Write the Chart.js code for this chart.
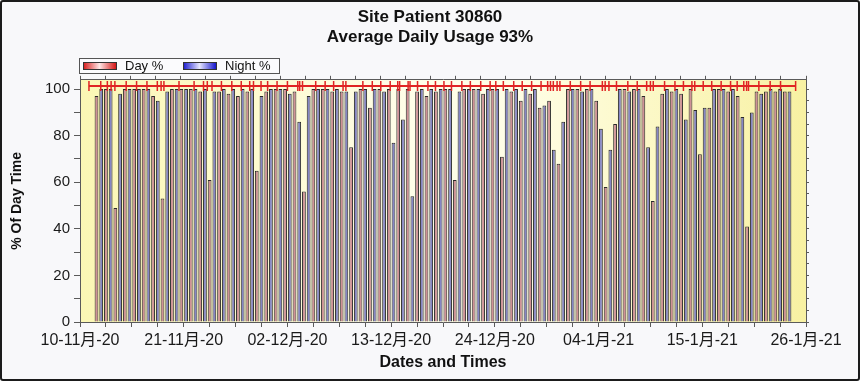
<!DOCTYPE html>
<html>
<head>
<meta charset="utf-8">
<script src="https://cdn.jsdelivr.net/npm/chart.js@4.4.1/dist/chart.umd.min.js"></script>
<style>
  html, body { margin: 0; padding: 0; background: #fff; }
  .frame { width: 860px; height: 381px; box-sizing: border-box; border: 2px solid #1b1b1b; border-radius: 3px; background: #f8f8fa; }
  .chart-box { position: relative; width: 856px; height: 377px; }
</style>
</head>
<body>
<div class="frame"><div class="chart-box"><canvas id="usageChart"></canvas></div></div>
<script>
// Chart data (x = days counted from 10-11-20)
const chartTitle = ['Site Patient 30860', 'Average Daily Usage 93%'];
const xTickLabels = ['10-11月-20', '21-11月-20', '02-12月-20', '13-12月-20', '24-12月-20', '04-1月-21', '15-1月-21', '26-1月-21'];
const tickDays = 11;
const firstDataDay = 2;

const dayPct = [
  97, 100, 49, 100, 100, 100, 97, 53, 100, 100, 100, 99, 61, 99, 98, 97, 99, 65,
  99, 100, 100, 99, 56, 100, 100, 99, 99, 75, 100, 92, 100, 100, 100, 100, 99, 97, 99,
  100, 61, 100, 100, 98, 100, 71, 99, 95, 98, 92, 95, 68, 100, 100, 100, 95, 58, 85,
  100, 100, 97, 52, 98, 99, 98, 100, 72, 92, 100, 99, 97, 41, 99, 99, 99, 99
];
const nightPct = [
  100, 100, 98, 100, 100, 100, 95, 99, 100, 100, 100, 100, 99, 100, 100, 100, 100, 97,
  100, 100, 98, 86, 97, 100, 100, 100, 99, 99, 100, 100, 99, 77, 87, 54, 100, 100, 100,
  100, 99, 100, 100, 100, 100, 100, 100, 100, 100, 93, 74, 86, 100, 99, 100, 83, 74, 100,
  99, 100, 75, 84, 100, 100, 87, 91, 92, 100, 100, 100, 88, 90, 98, 100, 100, 99
];

// red event line across the top
const markerLevel = 101.3;
const lineStartDay = 0.95;
const lineEndDay = 75.9;
const markerDays = [
  2.2, 2.9, 3.3, 3.7, 4.9, 6.0, 7.1, 8.2, 8.6, 8.9, 10.5, 12.1, 13.1, 13.5, 14.0, 15.0,
  16.1, 17.1, 18.0, 18.4, 19.2, 19.9, 20.9, 22.0, 23.1, 23.3, 23.6, 25.0, 26.0, 26.9,
  27.9, 28.2, 30.0, 31.0, 31.9, 32.9, 33.7, 33.9, 34.8, 35.0, 35.8, 36.9, 37.7, 38.6,
  39.4, 40.5, 41.4, 42.5, 43.5, 44.1, 44.9, 46.0, 46.9, 47.9, 48.9, 49.6, 49.9, 50.2,
  50.6, 50.9, 52.0, 53.1, 54.1, 55.4, 55.7, 56.1, 56.9, 58.1, 59.1, 60.1, 60.5, 60.8,
  62.0, 63.1, 64.0, 64.9, 65.2, 66.1, 67.0, 68.0, 69.0, 69.7, 70.4, 70.7, 70.9, 72.0,
  73.2, 74.3
];

const lastDay = tickDays * (xTickLabels.length - 1);
const dayPoints = dayPct.map((v, i) => ({ x: firstDataDay + i, y: v }));
const nightPoints = nightPct.map((v, i) => ({ x: firstDataDay + i, y: v }));
const markerPoints = [lineStartDay, ...markerDays, lineEndDay].map(d => ({ x: d, y: markerLevel }));

const FONT = "Arial, 'Liberation Sans', 'Noto Sans CJK SC', sans-serif";
const axisColor = '#5a5a5a';

// yellow plot background
const plotBackground = {
  id: 'plotBackground',
  beforeDraw(chart) {
    const { ctx, chartArea: { left, top, right, bottom } } = chart;
    const g = ctx.createLinearGradient(left, 0, right, 0);
    g.addColorStop(0, '#fbf7b4');
    g.addColorStop(0.45, '#fffee8');
    g.addColorStop(0.6, '#fffee6');
    g.addColorStop(1, '#f8f1a2');
    ctx.save();
    ctx.fillStyle = g;
    ctx.fillRect(left, top, right - left, bottom - top);
    ctx.restore();
  }
};

// boxed legend with gradient swatches, drawn above the plot
const boxLegend = {
  id: 'boxLegend',
  afterDraw(chart) {
    const { ctx, chartArea } = chart;
    const x0 = chartArea.left - 1;
    const y0 = 56;
    const items = chart.data.datasets.filter(ds => ds.swatch);
    ctx.save();
    ctx.fillStyle = '#fbfbfd';
    ctx.fillRect(x0, y0, 200, 15);
    ctx.strokeStyle = '#555';
    ctx.lineWidth = 1;
    ctx.strokeRect(x0 + 0.5, y0 + 0.5, 200, 15);
    ctx.font = '13px ' + FONT;
    ctx.textBaseline = 'middle';
    items.forEach((ds, i) => {
      const sx = x0 + 4 + i * 100;
      const g = ctx.createLinearGradient(sx, 0, sx + 33, 0);
      g.addColorStop(0, ds.swatch[0]);
      g.addColorStop(0.5, ds.swatch[1]);
      g.addColorStop(1, ds.swatch[0]);
      ctx.fillStyle = g;
      ctx.fillRect(sx, y0 + 4, 33, 7);
      ctx.strokeStyle = '#333';
      ctx.strokeRect(sx + 0.5, y0 + 4.5, 33, 7);
      ctx.fillStyle = '#111';
      ctx.fillText(ds.label, sx + 42, y0 + 8);
    });
    ctx.restore();
  }
};

const ctx = document.getElementById('usageChart').getContext('2d');
new Chart(ctx, {
  type: 'bar',
  data: {
    datasets: [
      {
        label: 'Day %',
        data: dayPoints,
        backgroundColor: '#cf9197',
        borderColor: '#2a2a2a',
        borderWidth: 1,
        barPercentage: 0.8,
        categoryPercentage: 1,
        swatch: ['#d41616', '#ffe6e6'],
        order: 2
      },
      {
        label: 'Night %',
        data: nightPoints,
        backgroundColor: '#8686c4',
        borderColor: '#2a2a2a',
        borderWidth: 1,
        barPercentage: 0.8,
        categoryPercentage: 1,
        swatch: ['#1616cc', '#e6e6ff'],
        order: 2
      },
      {
        type: 'line',
        label: 'events',
        data: markerPoints,
        borderColor: '#e02424',
        borderWidth: 2,
        pointStyle: 'line',
        pointRotation: 90,
        pointRadius: 5,
        pointBorderWidth: 1.5,
        pointBorderColor: '#e02424',
        order: 0
      }
    ]
  },
  options: {
    responsive: true,
    maintainAspectRatio: false,
    animation: false,
    layout: { padding: 0 },
    scales: {
      x: {
        type: 'linear',
        position: 'bottom',
        min: 0,
        max: lastDay,
        offset: false,
        afterFit(scale) { scale.height = 57; },
        grid: { offset: false, drawOnChartArea: false, color: axisColor, tickLength: 5 },
        border: { color: axisColor },
        ticks: {
          stepSize: tickDays / 4,
          autoSkip: false,
          maxRotation: 0,
          includeBounds: false,
          padding: 4,
          color: '#1a1a1a',
          font: { family: FONT, size: 16 },
          callback(value) {
            const i = value / tickDays;
            return Math.abs(i - Math.round(i)) < 1e-6 ? xTickLabels[Math.round(i)] : '';
          }
        },
        title: {
          display: true,
          text: 'Dates and Times',
          color: '#111',
          font: { family: FONT, size: 16, weight: 'bold' },
          padding: { top: 0, bottom: 7 }
        }
      },
      x2: {
        type: 'linear',
        position: 'top',
        min: 0,
        max: lastDay,
        afterFit(scale) { scale.height = 5; },
        grid: { drawOnChartArea: false, color: axisColor, tickLength: 4 },
        border: { color: axisColor },
        ticks: { stepSize: tickDays / 4, display: false }
      },
      y: {
        min: 0,
        max: 104,
        afterFit(scale) { scale.width = 78; },
        grid: { drawOnChartArea: false, color: axisColor, tickLength: 6 },
        border: { color: axisColor },
        ticks: {
          stepSize: 5,
          includeBounds: false,
          padding: 4,
          color: '#1a1a1a',
          font: { family: FONT, size: 15 },
          callback(value) { return value % 20 === 0 ? value : ''; }
        },
        title: {
          display: true,
          text: '% Of Day Time',
          color: '#111',
          font: { family: FONT, size: 14, weight: 'bold' },
          padding: { top: 7, bottom: 0 }
        }
      },
      y2: {
        position: 'right',
        min: 0,
        max: 104,
        afterFit(scale) { scale.width = 52; },
        grid: { drawOnChartArea: false, color: axisColor, tickLength: 3 },
        border: { color: axisColor },
        ticks: { stepSize: 5, includeBounds: false, display: false }
      }
    },
    plugins: {
      legend: { display: false },
      tooltip: { enabled: false },
      title: {
        display: true,
        text: chartTitle,
        color: '#111',
        font: { family: FONT, size: 17, weight: 'bold', lineHeight: 1.2 },
        padding: { top: 5, bottom: 27 }
      }
    }
  },
  plugins: [plotBackground, boxLegend]
});
</script>
</body>
</html>
